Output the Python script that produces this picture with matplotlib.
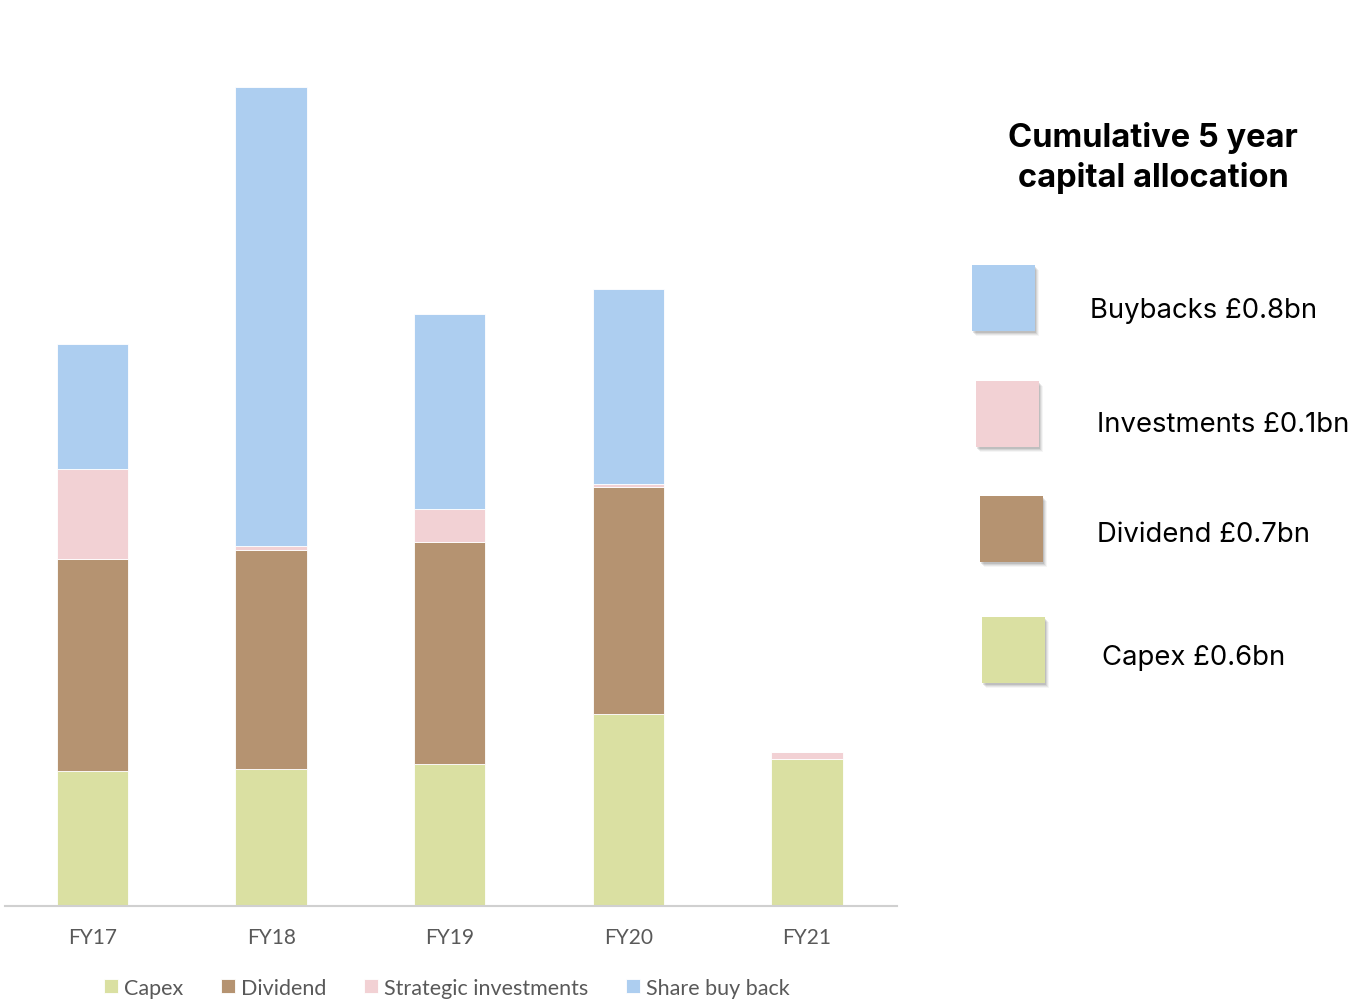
import matplotlib
matplotlib.use("Agg")
import matplotlib.pyplot as plt
from matplotlib.patches import Rectangle

# Capital allocation by year, £m
years = ["FY17", "FY18", "FY19", "FY20", "FY21"]
capex = [108, 110, 114, 154, 118]
dividend = [170, 175, 177, 181, 0]
strategic = [72, 3, 27, 3, 5]
buyback = [100, 367, 156, 156, 0]

series_names = ["Capex", "Dividend", "Strategic investments", "Share buy back"]
colors = ["#DAE0A2", "#B59371", "#F2D1D4", "#ADCEF0"]

summary_labels = ["Buybacks £0.8bn", "Investments £0.1bn", "Dividend £0.7bn", "Capex £0.6bn"]
summary_colors = ["#ADCEF0", "#F2D1D4", "#B59371", "#DAE0A2"]

W, H = 1358, 1003
fig = plt.figure(figsize=(W / 100, H / 100), dpi=100)


def fx(px):
    return px / W


def fy(py):
    return 1 - py / H


# Main stacked bar chart
ax = fig.add_axes([fx(5), fy(907), fx(897) - fx(5), fy(60) - fy(907)])
x = list(range(len(years)))
bottom = [0] * len(years)
for name, vals, c in zip(series_names, [capex, dividend, strategic, buyback], colors):
    ax.bar(x, vals, width=0.40, bottom=bottom, color=c, label=name,
           edgecolor="white", linewidth=0.6)
    bottom = [b + v for b, v in zip(bottom, vals)]

ax.set_xlim(-0.49, 4.504)
ax.set_ylim(0, (907 - 60) * 0.8)
for s in ["top", "right", "left"]:
    ax.spines[s].set_visible(False)
ax.spines["bottom"].set_color("#D0D0D0")
ax.spines["bottom"].set_linewidth(1.5)
ax.set_yticks([])
ax.set_xticks(x)
ax.set_xticklabels(years, fontsize=15, color="#595959", family="Lato")
ax.tick_params(axis="x", length=0, pad=15)

leg = ax.legend(loc="center", bbox_to_anchor=(fx(447), fy(989)), bbox_transform=fig.transFigure,
                ncol=4, frameon=False, borderpad=0,
                prop={"family": "Lato", "size": 15.5}, handlelength=0.63, handleheight=0.63,
                handletextpad=0.3, columnspacing=1.75)
for t in leg.get_texts():
    t.set_color("#595959")

# Right-hand summary panel
fig.text(fx(1153), fy(158), "Cumulative 5 year\ncapital allocation", ha="center", va="center",
         fontsize=23.5, fontweight="bold", family="Inter", linespacing=1.3, color="#000000")

boxes = [(972, 266), (976, 382), (980, 497), (982, 618)]
text_pos = [(1090, 311), (1097, 425), (1097, 535), (1102, 658)]
bw, bh = 63, 66
for (bx, by), (tx, ty), lab, c in zip(boxes, text_pos, summary_labels, summary_colors):
    # soft drop shadow
    for i, a in enumerate([0.10, 0.08, 0.06, 0.04]):
        off = 2 + i
        fig.patches.append(Rectangle((fx(bx + off - 1), fy(by + bh + off)), fx(bw), fy(0) - fy(bh),
                                     transform=fig.transFigure, color="#000000", alpha=a, lw=0))
    fig.patches.append(Rectangle((fx(bx), fy(by + bh)), fx(bw), fy(0) - fy(bh),
                                 transform=fig.transFigure, color=c, lw=0))
    fig.text(fx(tx), fy(ty), lab, ha="left", va="center", fontsize=19.8, family="Inter",
             color="#000000")

fig.savefig("out.png", dpi=100, facecolor="white")
